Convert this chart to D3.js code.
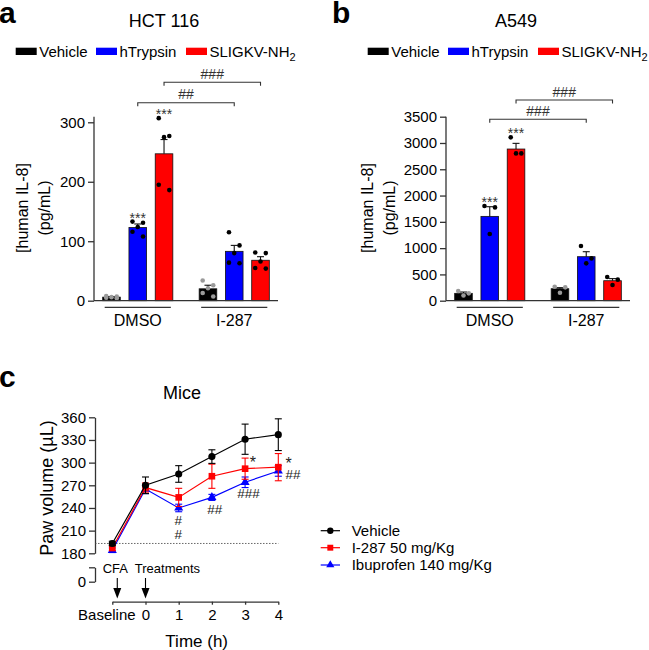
<!DOCTYPE html>
<html>
<head>
<meta charset="utf-8">
<script src="https://cdn.jsdelivr.net/npm/d3@7"></script>
<style>
  body { margin: 0; background: #fff; }
  svg { font-family: "Liberation Sans", Arial, sans-serif; }
  .axis path, .axis line { stroke: #333; stroke-width: 1.3; }
  .axis text { font-size: 15px; fill: #000; }
</style>
</head>
<body>
<svg id="chart" width="649" height="650"></svg>
<script>
// ---- data ----
const treatments = ['Vehicle', 'hTrypsin', 'SLIGKV-NH2'];
const groups = ['DMSO', 'I-287'];
const barColors = ['#000000', '#0000ff', '#ff0000'];

// panel a: HCT 116, means / sem / points, [group][treatment]
const hctMeans = [[6, 123, 247], [20, 83, 68]];
const hctSem = [[1, 6, 24], [6, 10, 6]];
const hctPoints = [
  [[8, 7, 6, 5, 4], [133, 131, 124, 116, 108], [307, 277, 275, 195, 186]],
  [[34, 26, 21, 13, 7], [115, 93, 80, 64, 63], [81, 80, 66, 55, 54]]
];
const hctTicks = [0, 100, 200, 300];
const hctStars = [[null, '***', '***'], [null, null, null]];
const hctBrackets = [
  { t: 1, label: '##' },
  { t: 2, label: '###' }
];

// panel b: A549
const a549Means = [[140, 1604, 2885], [228, 837, 380]];
const a549Sem = [[25, 184, 108], [20, 95, 40]];
const a549Points = [
  [[185, 140, 100], [1800, 1775, 1268], [3107, 2802, 2802]],
  [[266, 254, 152], [1040, 805, 710], [450, 400, 300]]
];
const a549Ticks = [0, 500, 1000, 1500, 2000, 2500, 3000, 3500];
const a549Stars = [[null, '***', '***'], [null, null, null]];
const a549Brackets = [
  { t: 1, label: '###' },
  { t: 2, label: '###' }
];

// panel c: mice paw volume
const times = [-1, 0, 1, 2, 3, 4];
const timeLabels = ['Baseline', '0', '1', '2', '3', '4'];
const pawTicks = [180, 210, 240, 270, 300, 330, 360];
const seriesNames = ['Vehicle', 'I-287 50 mg/Kg', 'Ibuprofen 140 mg/Kg'];
const vehicleMean = [193, 270, 285, 308, 331, 337];
const vehicleSem = [3, 11, 11, 9, 20, 21];
const i287Mean = [187, 267, 254, 282, 292, 294];
const i287Sem = [3, 6, 12, 16, 14, 18];
const ibuMean = [184, 265, 240, 254, 274, 289];
const ibuSem = [3, 6, 5, 4, 7, 7];
const pawNotes = [
  { t: 3.14, v: 293, text: '*', anchor: 'start' },
  { t: 4.22, v: 291.5, text: '*', anchor: 'start' },
  { t: 4.22, v: 279, text: '##', anchor: 'start' },
  { t: 3.1, v: 253, text: '###', anchor: 'middle' },
  { t: 2.09, v: 232, text: '##', anchor: 'middle' },
  { t: 0.99, v: 217.5, text: '#', anchor: 'middle' },
  { t: 0.99, v: 198.5, text: '#', anchor: 'middle' }
];

const svg = d3.select('#chart');

function subscriptLabel(sel, name) {
  // "SLIGKV-NH2" -> NH with subscript 2
  if (name === 'SLIGKV-NH2') {
    sel.append('tspan').text('SLIGKV-NH');
    sel.append('tspan').attr('dy', 4).attr('font-size', '11px').text('2');
  } else {
    sel.text(name);
  }
}

// horizontal scatter pattern inside a bar
function jitter(i, n) {
  const p5 = [-0.6, 0.6, 0, -0.6, 0.6];
  const p3 = [-0.6, 0.6, 0];
  return (n === 3 ? p3 : p5)[i % (n === 3 ? 3 : 5)];
}

function barPanel(cfg) {
  const axisX = cfg.x0, axisW = 184;
  const yBottom = 300.7, yTop = 116.7;
  const g = svg.append('g');

  const y = d3.scaleLinear().domain([0, cfg.yMax]).range([yBottom, yTop]);
  const x0 = d3.scaleBand().domain(groups).range([axisX, axisX + axisW])
    .paddingInner(0.273).paddingOuter(0.09);
  const x1 = d3.scaleBand().domain(treatments).range([0, x0.bandwidth()])
    .paddingInner(0.33).paddingOuter(0);

  // letter + title
  g.append('text').attr('x', cfg.letterX).attr('y', 22.7)
    .attr('font-size', '30px').attr('font-weight', 'bold').text(cfg.letter);
  g.append('text').attr('x', axisX + 70).attr('y', 26.7)
    .attr('text-anchor', 'middle').attr('font-size', '18px').text(cfg.title);

  // legend
  const legOffsets = [0, 80.3, 170.3];
  const leg = g.append('g').attr('transform', `translate(${axisX - 78.3},0)`);
  treatments.forEach((t, i) => {
    leg.append('rect').attr('x', legOffsets[i]).attr('y', 47.7)
      .attr('width', 21).attr('height', 7.3).attr('fill', barColors[i]);
    const tx = leg.append('text').attr('x', legOffsets[i] + 23.5).attr('y', 57.3)
      .attr('font-size', '15px');
    subscriptLabel(tx, t);
  });

  // y axis
  g.append('g').attr('class', 'axis')
    .attr('transform', `translate(${axisX},0)`)
    .call(d3.axisLeft(y).tickValues(cfg.ticks).tickFormat(d3.format('d'))
      .tickSize(6).tickSizeOuter(0).tickPadding(3))
    .call(a => a.select('.domain').attr('d', `M0,${yBottom}V${yTop}`));

  // y label
  const yl = g.append('text').attr('font-size', '16px').attr('text-anchor', 'middle')
    .attr('transform', `translate(${cfg.labelX},208) rotate(-90)`);
  yl.append('tspan').attr('x', 0).attr('y', 0).text('[human IL-8]');
  yl.append('tspan').attr('x', 0).attr('y', 22).text('(pg/mL)');

  // bars
  groups.forEach((grp, gi) => {
    treatments.forEach((t, ti) => {
      const bx = x0(grp) + x1(t);
      const bw = x1.bandwidth();
      const cx = bx + bw / 2;
      const m = cfg.means[gi][ti];
      const s = cfg.sems[gi][ti];
      g.append('rect').attr('x', bx).attr('y', y(m))
        .attr('width', bw).attr('height', y(0) - y(m))
        .attr('fill', barColors[ti]).attr('stroke', '#111').attr('stroke-width', 0.8);
      // error bar (upper)
      g.append('line').attr('x1', cx).attr('x2', cx)
        .attr('y1', y(m)).attr('y2', y(m + s)).attr('stroke', '#111').attr('stroke-width', 1.1);
      g.append('line').attr('x1', cx - 3.5).attr('x2', cx + 3.5)
        .attr('y1', y(m + s)).attr('y2', y(m + s)).attr('stroke', '#111').attr('stroke-width', 1.1);
      // points
      const pts = cfg.points[gi][ti];
      const n = pts.length;
      g.selectAll(null).data(pts).enter().append('circle')
        .attr('cx', (d, i) => cx + jitter(i, n) * bw / 2)
        .attr('cy', d => y(d))
        .attr('r', 2.3)
        .attr('fill', ti === 0 ? '#9a9a9a' : '#000');
      // stars
      const star = cfg.stars[gi][ti];
      if (star) {
        const top = Math.max(m + s, d3.max(pts));
        g.append('text').attr('x', cx).attr('y', y(top) + 1)
          .attr('text-anchor', 'middle').attr('font-size', '14px').attr('fill', '#333').text(star);
      }
    });
    // group underline + label
    g.append('line').attr('x1', x0(grp) + 2).attr('x2', x0(grp) + x0.bandwidth() - 2)
      .attr('y1', 307.3).attr('y2', 307.3).attr('stroke', '#333').attr('stroke-width', 1.2);
    g.append('text').attr('x', x0(grp) + x0.bandwidth() / 2).attr('y', 325.5)
      .attr('text-anchor', 'middle').attr('font-size', '16px').text(grp);
  });

  // x axis line
  g.append('line').attr('x1', axisX).attr('x2', axisX + axisW)
    .attr('y1', yBottom).attr('y2', yBottom).attr('stroke', '#333').attr('stroke-width', 1.3);

  // brackets
  cfg.brackets.forEach((b, i) => {
    const t = treatments[b.t];
    const xa = x0(groups[0]) + x1(t) + x1.bandwidth() / 2;
    const xb = x0(groups[1]) + x1(t) + x1.bandwidth() / 2;
    const by = cfg.bracketY[i];
    g.append('path').attr('d', `M${xa},${by + 3.5}V${by}H${xb}V${by + 3.5}`)
      .attr('fill', 'none').attr('stroke', '#333').attr('stroke-width', 1.1);
    g.append('text').attr('x', (xa + xb) / 2).attr('y', by - 3.5)
      .attr('text-anchor', 'middle').attr('font-size', '14px').attr('fill', '#333').text(b.label);
  });
}

barPanel({
  x0: 94, letter: 'a', letterX: -1, title: 'HCT 116', labelX: 28,
  yMax: 309.4, ticks: hctTicks, means: hctMeans, sems: hctSem, points: hctPoints,
  stars: hctStars, brackets: hctBrackets, bracketY: [102.7, 82.3]
});
barPanel({
  x0: 446, letter: 'b', letterX: 332, title: 'A549', labelX: 373,
  yMax: 3500, ticks: a549Ticks, means: a549Means, sems: a549Sem, points: a549Points,
  stars: a549Stars, brackets: a549Brackets, bracketY: [119.3, 100]
});

// ---- panel c ----
const gc = svg.append('g');
const xc = d3.scaleLinear().domain([-1, 4]).range([112.3, 278.3]);
const yc = d3.scaleLinear().domain([180, 360]).range([553.3, 417.3]);
const yLow = d3.scaleLinear().domain([0, 19]).range([581.7, 567.3]);
const axisXc = 95;

gc.append('text').attr('x', -1).attr('y', 386.7)
  .attr('font-size', '30px').attr('font-weight', 'bold').text('c');
gc.append('text').attr('x', 182).attr('y', 399.3)
  .attr('text-anchor', 'middle').attr('font-size', '18px').text('Mice');

gc.append('g').attr('class', 'axis').attr('transform', `translate(${axisXc},0)`)
  .call(d3.axisLeft(yc).tickValues(pawTicks).tickSize(6).tickSizeOuter(0).tickPadding(3));
gc.append('g').attr('class', 'axis').attr('transform', `translate(${axisXc},0)`)
  .call(d3.axisLeft(yLow).tickValues([0, 19]).tickFormat(d => d === 0 ? '0' : '')
    .tickSize(6).tickSizeOuter(0).tickPadding(3));
gc.append('g').attr('class', 'axis').attr('transform', 'translate(0,601.7)')
  .call(d3.axisBottom(xc).tickValues(times).tickFormat((d, i) => timeLabels[i])
    .tickSize(3).tickSizeOuter(0).tickPadding(4.5))
  .call(a => a.selectAll('.tick text').filter(d => d === -1)
    .attr('dx', -6).attr('font-size', '14.5px'));

gc.append('text').attr('font-size', '18px').attr('text-anchor', 'middle')
  .attr('transform', `translate(53,488) rotate(-90)`).text('Paw volume (µL)');
gc.append('text').attr('x', 196.7).attr('y', 646.7)
  .attr('text-anchor', 'middle').attr('font-size', '17px').text('Time (h)');

// dotted baseline reference
gc.append('line').attr('x1', axisXc).attr('x2', xc(4))
  .attr('y1', yc(vehicleMean[0])).attr('y2', yc(vehicleMean[0]))
  .attr('stroke', '#444').attr('stroke-width', 0.8).attr('stroke-dasharray', '1.5,1.5');

// CFA / Treatments arrows
const arrows = [{ t: -0.85, text: 'CFA', dx: -2, anchor: 'middle' },
                { t: 0, text: 'Treatments', dx: -10.7, anchor: 'start' }];
arrows.forEach(a => {
  const ax = xc(a.t);
  gc.append('line').attr('x1', ax).attr('x2', ax).attr('y1', 578).attr('y2', 590)
    .attr('stroke', '#000').attr('stroke-width', 1.1);
  gc.append('path').attr('d', `M${ax - 4},${588}L${ax + 4},${588}L${ax},${598.5}Z`).attr('fill', '#000');
  gc.append('text').attr('x', ax + a.dx).attr('y', 573.3).attr('text-anchor', a.anchor)
    .attr('font-size', '13px').text(a.text);
});

const series = [
  { name: seriesNames[0], mean: vehicleMean, sem: vehicleSem, color: '#000000', shape: d3.symbolCircle, size: 40 },
  { name: seriesNames[1], mean: i287Mean, sem: i287Sem, color: '#ff0000', shape: d3.symbolSquare, size: 44 },
  { name: seriesNames[2], mean: ibuMean, sem: ibuSem, color: '#0000ff', shape: d3.symbolTriangle, size: 36 }
];

const line = d3.line().x((d, i) => xc(times[i])).y(d => yc(d));

series.slice().reverse().forEach(s => {
  const eg = gc.append('g');
  s.mean.forEach((m, i) => {
    const px = xc(times[i]);
    eg.append('line').attr('x1', px).attr('x2', px)
      .attr('y1', yc(m - s.sem[i])).attr('y2', yc(m + s.sem[i]))
      .attr('stroke', s.color).attr('stroke-width', 1.1);
    [m - s.sem[i], m + s.sem[i]].forEach(v => {
      eg.append('line').attr('x1', px - 3.5).attr('x2', px + 3.5)
        .attr('y1', yc(v)).attr('y2', yc(v)).attr('stroke', s.color).attr('stroke-width', 1.1);
    });
  });
  gc.append('path').datum(s.mean).attr('d', line)
    .attr('fill', 'none').attr('stroke', s.color).attr('stroke-width', 1.2);
  gc.selectAll(null).data(s.mean).enter().append('path')
    .attr('d', d3.symbol().type(s.shape).size(s.size))
    .attr('transform', (d, i) => `translate(${xc(times[i])},${yc(d)})`)
    .attr('fill', s.color);
});

pawNotes.forEach(n => {
  gc.append('text').attr('x', xc(n.t)).attr('y', yc(n.v))
    .attr('text-anchor', n.anchor).attr('font-size', n.text === '*' ? '16px' : '13.5px')
    .attr('fill', '#222').text(n.text);
});

// legend c
const lg = gc.append('g');
const legRows = [530.7, 547.7, 565];
series.forEach((s, i) => {
  lg.append('line').attr('x1', 320.7).attr('x2', 340).attr('y1', legRows[i]).attr('y2', legRows[i])
    .attr('stroke', s.color).attr('stroke-width', 1.2);
  lg.append('path').attr('d', d3.symbol().type(s.shape).size(s.size * 0.8))
    .attr('transform', `translate(330.3,${legRows[i]})`).attr('fill', s.color);
  lg.append('text').attr('x', 351.7).attr('y', legRows[i] + 5.3)
    .attr('font-size', '15px').text(s.name);
});
</script>
</body>
</html>
